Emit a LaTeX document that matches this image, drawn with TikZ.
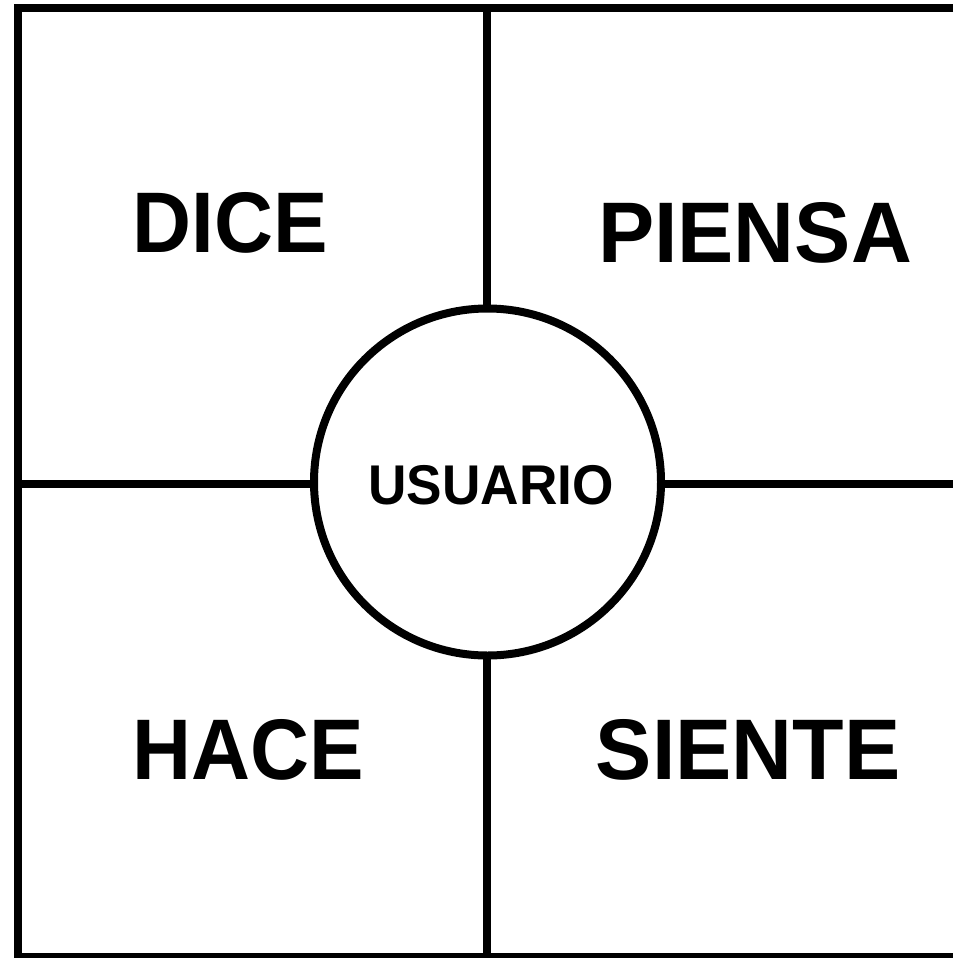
\documentclass[tikz,border=0pt]{standalone}
\usepackage{fontspec}
\setmainfont{Liberation Sans}
\begin{document}
\begin{tikzpicture}[x=1pt,y=-1pt,
  frame/.style={line width=8pt,draw=black},
  bigword/.style={inner sep=0pt,font=\fontsize{86}{90}\selectfont\bfseries},
  userword/.style={inner sep=0pt,font=\fontsize{56}{60}\selectfont\bfseries}]
\useasboundingbox[fill=white] (0,0) rectangle (953,958);
\coordinate (tr) at (953,8);
\coordinate (tl) at (18,8);
\coordinate (bl) at (18,957);
\coordinate (br) at (953,957);
\coordinate (vt) at (487,8);
\coordinate (vb) at (487,957);
\coordinate (hl) at (18,484);
\coordinate (hr) at (953,484);
\draw[frame,line join=miter] (tr) -- (tl) -- (bl) -- (br);
\draw[frame] (vt) -- (vb);
\draw[frame] (hl) -- (hr);
\node[circle,draw=black,line width=8pt,fill=white,minimum size=347pt,inner sep=0pt] (user) at (487.5,482) {};
\node[userword,xscale=0.95] (usuario) at (491,485) {USUARIO};
\node[bigword,xscale=0.95] (dice) at (230,223) {DICE};
\node[bigword,xscale=0.98] (piensa) at (755,232.5) {PIENSA};
\node[bigword,xscale=0.95] (hace) at (248,749.5) {HACE};
\node[bigword,xscale=0.98] (siente) at (748,749.5) {SIENTE};
\end{tikzpicture}
\end{document}
